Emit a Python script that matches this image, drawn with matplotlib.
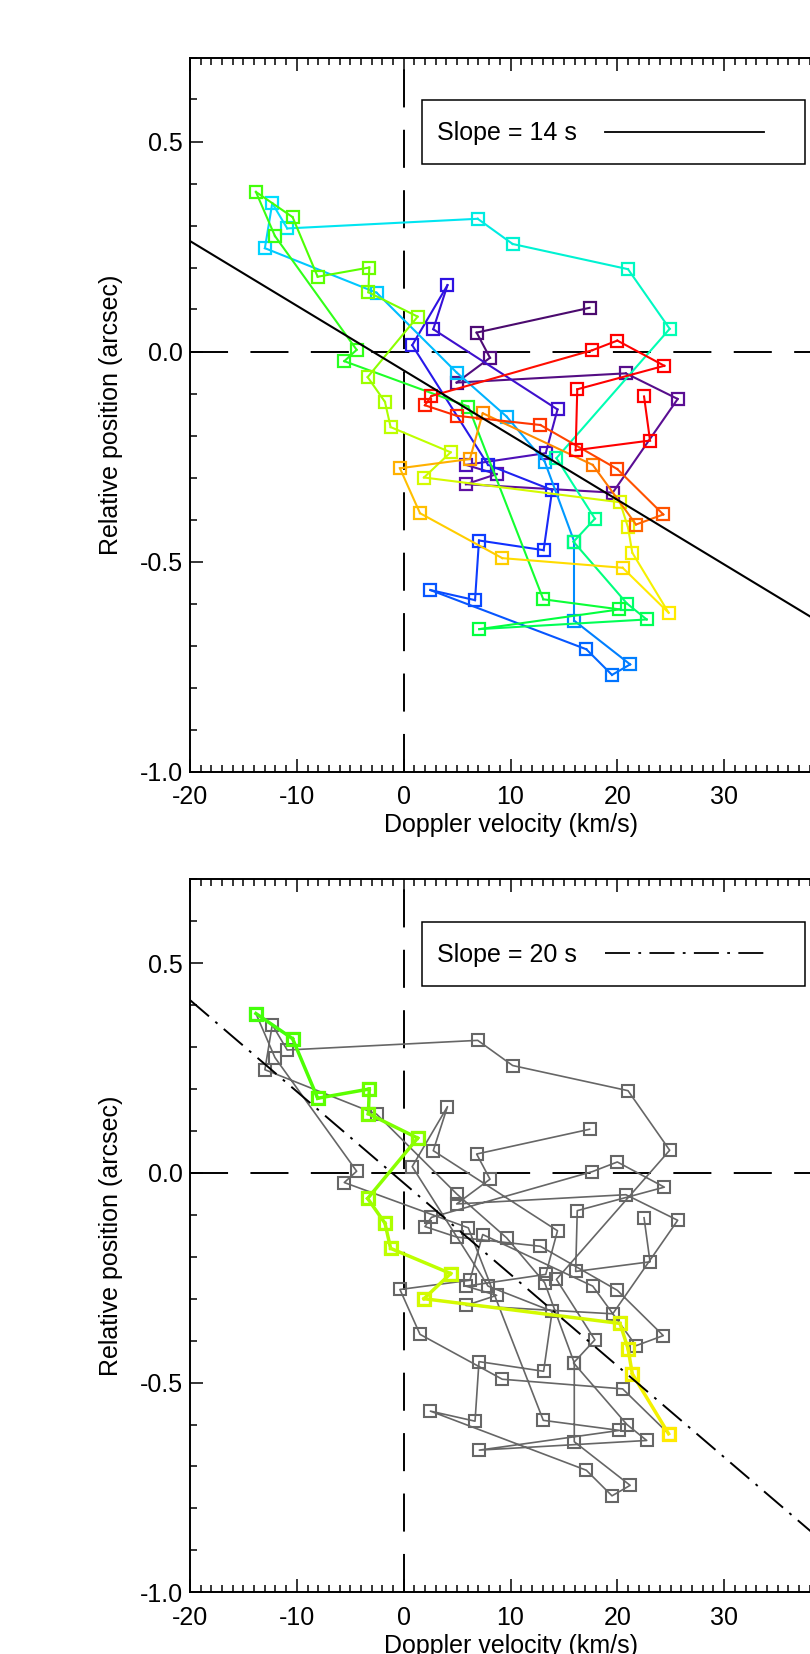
import numpy as np
import matplotlib
matplotlib.use('Agg')
import matplotlib.pyplot as plt
from matplotlib.colors import LinearSegmentedColormap
from matplotlib.ticker import MultipleLocator, FuncFormatter
from matplotlib.patches import Rectangle

plt.rcParams['font.family'] = ['Liberation Sans', 'DejaVu Sans']
plt.rcParams['axes.unicode_minus'] = False
plt.rcParams['lines.scale_dashes'] = False

# trajectory, in time order (km/s, arcsec)
vel = [17.4, 6.83, 8.08, 4.96, 20.8, 25.65, 19.57, 5.83, 8.7, 5.83,
       13.3, 14.4, 2.77, 4.1, 0.8, 7.9, 13.9, 13.1, 7.05, 6.68,
       2.5, 17.1, 19.5, 21.2, 15.97, 15.97, 13.2, 9.64, 4.96, -2.53,
       -12.99, -12.3, -10.9, 6.93, 10.2, 21.0, 24.9, 14.3, 17.9, 15.9,
       20.9, 22.75, 7.08, 20.2, 13.07, 6.05, -5.56, -4.4, -12.05, -13.83,
       -10.4, -8.05, -3.22, -3.3, 1.31, -3.37, -1.75, -1.22, 4.4, 1.9,
       20.25, 21.0, 21.4, 24.8, 20.5, 9.23, 1.53, -0.35, 6.2, 7.4,
       17.7, 21.75, 24.3, 20.0, 12.8, 4.96, 1.99, 2.6, 17.66, 20.0,
       24.4, 16.25, 16.1, 23.06, 22.5]
pos = [0.104, 0.045, -0.015, -0.074, -0.052, -0.113, -0.336, -0.316, -0.292, -0.27,
       -0.242, -0.138, 0.053, 0.158, 0.015, -0.27, -0.33, -0.473, -0.45, -0.592,
       -0.568, -0.709, -0.77, -0.745, -0.641, -0.453, -0.262, -0.155, -0.05, 0.14,
       0.246, 0.353, 0.293, 0.316, 0.256, 0.196, 0.054, -0.254, -0.398, -0.453,
       -0.6, -0.638, -0.661, -0.614, -0.59, -0.131, -0.023, 0.004, 0.275, 0.38,
       0.32, 0.178, 0.2, 0.141, 0.083, -0.061, -0.12, -0.18, -0.24, -0.3,
       -0.359, -0.419, -0.479, -0.622, -0.515, -0.492, -0.385, -0.278, -0.256, -0.147,
       -0.27, -0.412, -0.388, -0.28, -0.175, -0.153, -0.128, -0.106, 0.003, 0.026,
       -0.034, -0.09, -0.235, -0.212, -0.107]

# part of the track picked out in the lower panel
hl_first = 49
hl_last = 63

fit_slope = [-0.0154, -0.0218]
fit_icpt = [-0.045, -0.024]
fit_label = ['Slope = 14 s', 'Slope = 20 s']

rainbow = LinearSegmentedColormap.from_list('idl_rainbow', [
    (0.00, '#4b0a6e'), (0.08, '#6010a0'), (0.15, '#3010e0'), (0.20, '#1030ff'),
    (0.26, '#0070ff'), (0.32, '#00b0ff'), (0.37, '#00e0ff'), (0.43, '#00ffb0'),
    (0.50, '#00ff40'), (0.60, '#50ff00'), (0.68, '#c0ff00'), (0.75, '#ffee00'),
    (0.80, '#ffb000'), (0.86, '#ff5000'), (0.93, '#ff0000'), (1.00, '#ff0000')])

n = len(vel)
cols = [rainbow(i / (n - 1)) for i in range(n)]

fig = plt.figure(figsize=(8.1, 16.54), dpi=100)
W, H = 810.0, 1654.0
ax1 = fig.add_axes([190 / W, 1 - 771.5 / H, 641 / W, 714 / H])
ax2 = fig.add_axes([190 / W, 1 - 1592.3 / H, 641 / W, 713 / H])

# the right part of the plot is cropped off, so no label for x = 40
xfmt = FuncFormatter(lambda v, p: '%d' % v if v < 35 else '')


def style_axes(ax):
    ax.set_xlim(-20, 40)
    ax.set_ylim(-1.0, 0.7)
    ax.xaxis.set_major_locator(MultipleLocator(10))
    ax.xaxis.set_minor_locator(MultipleLocator(1))
    ax.xaxis.set_major_formatter(xfmt)
    ax.yaxis.set_major_locator(MultipleLocator(0.5))
    ax.yaxis.set_minor_locator(MultipleLocator(0.1))
    ax.yaxis.set_major_formatter(plt.FormatStrFormatter('%.1f'))
    ax.tick_params(which='both', direction='in', top=True, right=True,
                   width=1.1, labelsize=18)
    ax.tick_params(which='major', length=9.5)
    ax.tick_params(which='minor', length=4.7)
    ax.tick_params(axis='x', pad=10)
    ax.tick_params(axis='y', pad=5)
    for s in ax.spines.values():
        s.set_linewidth(1.4)
    ax.set_xlabel('Doppler velocity (km/s)', fontsize=18)
    ax.set_ylabel('Relative position (arcsec)', fontsize=18)
    ax.xaxis.set_label_coords(0.5, -0.058)
    ax.yaxis.set_label_coords(-0.105, 0.5)
    ax.plot([0, 0], [-1.0, 0.7], color='black', lw=1.4, dashes=(27.4, 16.1))
    ax.plot([-20, 40], [0, 0], color='black', lw=1.4, dashes=(27.4, 16.1))


def legend_box(ax, label, ls):
    ax.add_patch(Rectangle((0.362, 0.851), 0.597, 0.089, transform=ax.transAxes,
                           fill=False, lw=1.1, color='black', clip_on=False))
    ax.text(0.385, 0.894, label, transform=ax.transAxes, fontsize=18,
            va='center', ha='left')
    ax.plot([0.647, 0.895], [0.896, 0.896], transform=ax.transAxes,
            color='black', lw=1.3, clip_on=False, **ls)


# top panel: whole track coloured by time
style_axes(ax1)
for i in range(n):
    if i < n - 1:
        ax1.plot(vel[i:i + 2], pos[i:i + 2], color=cols[i], lw=1.5)
    ax1.plot(vel[i], pos[i], 's', ms=8.5, mfc='none', mec=cols[i], mew=1.6)
xx = np.array([-20.0, 40.0])
ax1.plot(xx, fit_slope[0] * xx + fit_icpt[0], color='black', lw=1.5)
legend_box(ax1, fit_label[0], dict(linestyle='-'))

# bottom panel: grey track with the highlighted stretch
style_axes(ax2)
ax2.plot(vel, pos, color='#666666', lw=1.2, marker='s', ms=8.5, mfc='none',
         mec='#666666', mew=1.5)
for i in range(hl_first, hl_last + 1):
    if i < hl_last:
        ax2.plot(vel[i:i + 2], pos[i:i + 2], color=cols[i], lw=2.5)
    ax2.plot(vel[i], pos[i], 's', ms=8.5, mfc='none', mec=cols[i], mew=2.3)
ax2.plot(xx, fit_slope[1] * xx + fit_icpt[1], color='black', lw=1.4,
         dashes=(18, 6, 2, 6))
legend_box(ax2, fit_label[1], dict(dashes=(18, 6, 2, 6)))

fig.savefig('out.png', dpi=100)
